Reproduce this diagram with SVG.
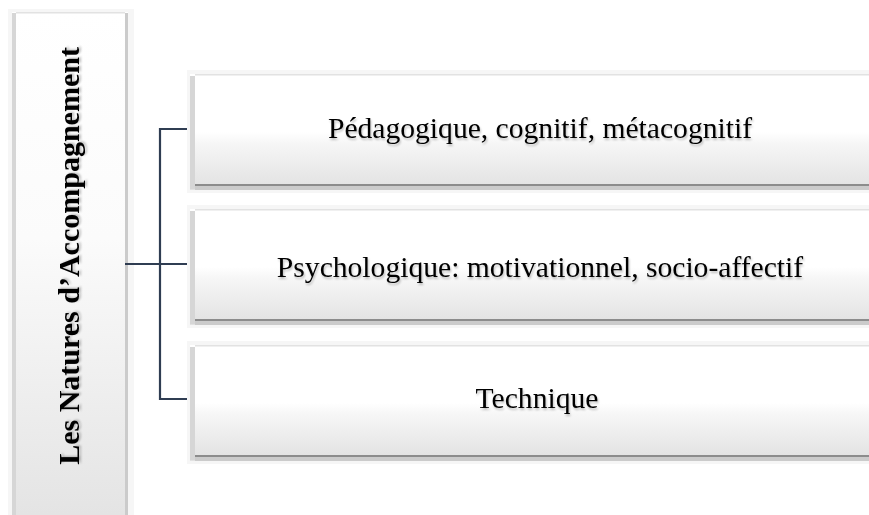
<svg xmlns="http://www.w3.org/2000/svg" width="869" height="515" viewBox="0 0 869 515">
  <defs>
    <linearGradient id="boxFill" x1="0" y1="0" x2="0" y2="1">
      <stop offset="0" stop-color="#ffffff"/>
      <stop offset="0.5" stop-color="#ffffff"/>
      <stop offset="0.6" stop-color="#f6f6f6"/>
      <stop offset="1" stop-color="#e1e1e1"/>
    </linearGradient>
    <linearGradient id="sideFill" x1="0" y1="0" x2="0" y2="1">
      <stop offset="0" stop-color="#ffffff"/>
      <stop offset="0.45" stop-color="#fbfbfb"/>
      <stop offset="1" stop-color="#e4e4e4"/>
    </linearGradient>
    <filter id="soft" x="-5%" y="-20%" width="110%" height="140%">
      <feGaussianBlur in="SourceAlpha" stdDeviation="1.2"/>
      <feOffset dx="1" dy="1.5" result="b"/>
      <feComponentTransfer><feFuncA type="linear" slope="0.25"/></feComponentTransfer>
      <feMerge><feMergeNode/><feMergeNode in="SourceGraphic"/></feMerge>
    </filter>
  </defs>
  <style>
    .halo { fill: #f6f6f6; }
    .edge { fill: #d6d6d6; }
    .rule { fill: #8c8c8c; }
    .band { fill: #cbcbcb; }
    .toprule { fill: #e2e2e2; }
    .label { font-family: "Liberation Serif", "Times New Roman", serif; font-size: 29.6px; fill: #000; text-anchor: middle; }
    .title { font-family: "Liberation Serif", "Times New Roman", serif; font-size: 30px; font-weight: bold; fill: #000; text-anchor: middle; }
    .link { stroke: #2f3d52; stroke-width: 2.2; fill: none; }
  </style>
  <rect width="869" height="515" fill="#ffffff"/>

  <!-- vertical heading panel -->
  <g id="heading">
    <rect class="halo" x="8" y="9" width="126" height="506"/>
    <rect x="12" y="12" width="116" height="503" fill="url(#sideFill)"/>
    <rect class="edge" x="12" y="13" width="4" height="502"/>
    <rect class="toprule" x="16" y="12" width="109" height="1.5"/>
    <rect class="band" x="125" y="13" width="3" height="502"/>
    <text class="title" transform="translate(79 256) rotate(-90)" filter="url(#soft)">Les Natures d’Accompagnement</text>
  </g>

  <!-- connectors -->
  <g id="connectors">
    <path class="link" d="M125 264H195"/>
    <path class="link" d="M195 129H160V399H195"/>
  </g>

  <g id="node-pedagogique">
    <rect class="halo" x="187" y="70" width="682" height="123"/>
    <rect x="190" y="74" width="679" height="116" fill="url(#boxFill)"/>
    <rect class="toprule" x="195" y="74" width="674" height="1.5"/>
    <rect class="edge" x="190" y="76" width="5" height="113"/>
    <rect class="rule" x="195" y="184" width="674" height="2"/>
    <rect class="band" x="195" y="186" width="674" height="4"/>
    <text class="label" x="540" y="138" filter="url(#soft)">Pédagogique, cognitif, métacognitif</text>
  </g>

  <g id="node-psychologique">
    <rect class="halo" x="187" y="205" width="682" height="123"/>
    <rect x="190" y="209" width="679" height="116" fill="url(#boxFill)"/>
    <rect class="toprule" x="195" y="209" width="674" height="1.5"/>
    <rect class="edge" x="190" y="211" width="5" height="113"/>
    <rect class="rule" x="195" y="319" width="674" height="2"/>
    <rect class="band" x="195" y="321" width="674" height="4"/>
    <text class="label" x="540" y="277" filter="url(#soft)">Psychologique: motivationnel, socio-affectif</text>
  </g>

  <g id="node-technique">
    <rect class="halo" x="187" y="341" width="682" height="123"/>
    <rect x="190" y="345" width="679" height="116" fill="url(#boxFill)"/>
    <rect class="toprule" x="195" y="345" width="674" height="1.5"/>
    <rect class="edge" x="190" y="347" width="5" height="113"/>
    <rect class="rule" x="195" y="455" width="674" height="2"/>
    <rect class="band" x="195" y="457" width="674" height="4"/>
    <text class="label" x="537" y="408" filter="url(#soft)">Technique</text>
  </g>
</svg>
